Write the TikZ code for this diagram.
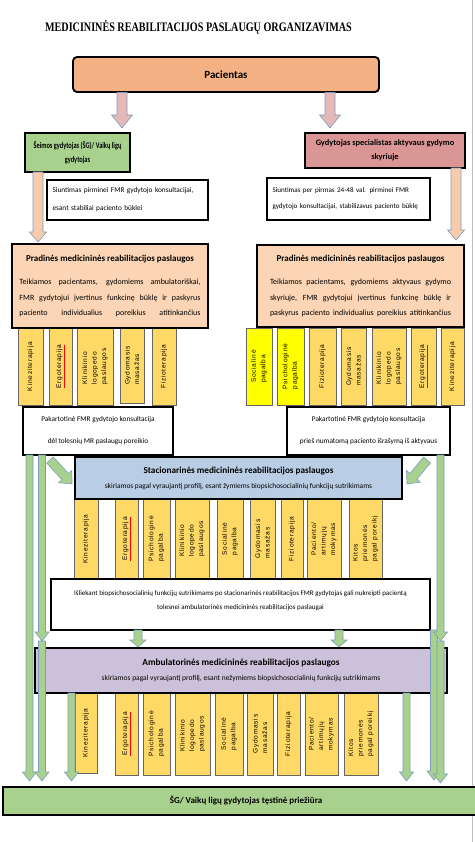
\documentclass[tikz,border=0pt]{standalone}
\usepackage{fontspec}
\usepackage{graphicx}
\setmainfont{Carlito}
\newfontfamily\barfont[LetterSpace=11]{Liberation Sans}
\newfontfamily\ttlfont{Liberation Serif}
\newfontfamily\condfont[FakeStretch=0.74]{Carlito}
\usetikzlibrary{calc}
\definecolor{pacfill}{HTML}{F4B183}
\definecolor{sgfill}{HTML}{A9D18E}
\definecolor{specfill}{HTML}{D99694}
\definecolor{pradfill}{HTML}{FBD5B5}
\definecolor{barfill}{HTML}{FFD966}
\definecolor{ylw}{HTML}{FFFF00}
\definecolor{stacfill}{HTML}{B9CDE5}
\definecolor{ambfill}{HTML}{CCC1DA}
\definecolor{arrline}{HTML}{7C9CC0}
\definecolor{pinkarr}{HTML}{E6B9B8}
\definecolor{orarr}{HTML}{F8CBAD}
\definecolor{grarr}{HTML}{A9D18E}
\tikzset{
  box/.style={draw=black, line width=1.9pt, inner sep=2pt, align=center},
  barbox/.style={draw=black!60, line width=0.5pt, rotate=90, inner sep=1pt, align=left,
    font=\barfont\fontsize{6.6}{9.5}\selectfont},
  blockarr/.style={draw=arrline, line width=0.6pt, fill=#1},
}
% service bar: [fill] name x1 x2 y1 y2 text
\newcommand\svc[7][barfill]{%
  \node[barbox, fill=#1, minimum width={#6-#5}, minimum height={#4-#3}] (#2) at ({(#3+#4)/2},{(#5+#6)/2}) {#7};}
% block arrow: style, from, to, half shaft, half head, head length
\newcommand\blockarrow[6]{%
  \coordinate (bah) at ($(#3)!#6!(#2)$);
  \draw[#1] ($(#2)!#4!90:(#3)$) -- ($(bah)!#4!90:(#3)$) -- ($(bah)!#5!90:(#3)$) -- (#3)
    -- ($(bah)!#5!-90:(#3)$) -- ($(bah)!#4!-90:(#3)$) -- ($(#2)!#4!-90:(#3)$) -- cycle;}
\newcommand\ergo{{\color{red}\underline{\color{black}Ergoterapija}}}
\begin{document}
\begin{tikzpicture}[x=1pt,y=-1pt]
\fill[white] (0,0) rectangle (474,842);
\useasboundingbox (0,0) rectangle (474,842);
\draw[gray!50, line width=1pt] (472.5,0) -- (472.5,842);

\node[font=\ttlfont\bfseries\fontsize{13}{15}\selectfont] (title) at (198.5,27)
  {\scalebox{0.78}[1]{MEDICININĖS REABILITACIJOS PASLAUGŲ ORGANIZAVIMAS}};

% ---------- service bars (behind boxes) ----------
\svc{l1}{18}{43}{328}{405}{Kineziterapija}
\svc{l2}{49}{72}{328}{405}{\ergo}
\svc{l3}{77}{113}{328}{405}{Klinikinio\\logopedo\\paslaugos}
\svc{l4}{120}{144}{328}{403}{Gydomasis\\masažas}
\svc{l5}{152}{176}{328}{405}{Fizioterapija}

\svc[ylw]{r1}{246}{272}{328}{405}{Socialinė\\pagalba}
\svc[ylw]{r2}{277}{304}{328}{405}{Psichologinė\\pagalba}
\svc{r3}{309}{336}{328}{405}{Fizioterapija}
\svc{r4}{341}{366}{328}{405}{Gydomasis\\masažas}
\svc{r5}{372}{406}{328}{405}{Klinikinio\\logopedo\\paslaugos}
\svc{r6}{411}{436}{328}{405}{\ergo}
\svc{r7}{441}{464}{328}{405}{Kineziterapija}

\svc{s1}{74}{98}{499}{579}{Kineziterapija}
\svc{s2}{115}{138}{499}{579}{\ergo}
\svc{s3}{143}{170}{499}{579}{Psichologinė\\pagalba}
\svc{s4}{175}{209}{499}{579}{Klinikinio\\logopedo\\paslaugos}
\svc{s5}{217}{243}{499}{579}{Socialinė\\pagalba}
\svc{s6}{250}{275}{499}{579}{Gydomasis\\masažas}
\svc{s7}{281}{303}{499}{579}{Fizioterapija}
\svc{s8}{307}{341}{499}{579}{Paciento/\\artimųjų\\mokymas}
\svc{s9}{349}{382}{499}{579}{Kitos\\priemonės\\pagal poreikį}

\svc{a1}{75}{97}{693}{773}{Kineziterapija}
\svc{a2}{115}{138}{693}{775}{\ergo}
\svc{a3}{143}{170}{693}{775}{Psichologinė\\pagalba}
\svc{a4}{175}{210}{693}{775}{Klinikinio\\logopedo\\paslaugos}
\svc{a5}{215}{243}{693}{775}{Socialinė\\pagalba}
\svc{a6}{247}{273}{693}{775}{Gydomasis\\masažas}
\svc{a7}{277}{300}{693}{775}{Fizioterapija}
\svc{a8}{305}{338}{693}{775}{Paciento/\\artimųjų\\mokymas}
\svc{a9}{344}{378}{693}{775}{Kitos\\priemonės\\pagal poreikį}

% ---------- boxes ----------
\node[box, fill=pacfill, rounded corners=4pt, minimum width=306, minimum height=35,
  font=\bfseries\fontsize{11}{13}\selectfont] (pac) at (226,74.5) {Pacientas};

\node[box, fill=sgfill, minimum width=105, minimum height=39,
  font=\condfont\bfseries\fontsize{8.6}{14}\selectfont] (sg) at (77.5,152.5)
  {Šeimos gydytojas (ŠG)/ Vaikų ligų\\gydytojas};

\node[box, fill=specfill, minimum width=160, minimum height=35,
  font=\bfseries\fontsize{8.4}{14}\selectfont] (spec) at (385,150.5)
  {Gydytojas specialistas aktyvaus gydymo\\skyriuje};

\node[box, fill=white, minimum width=161, minimum height=40, text width=150, align=left,
  font=\fontsize{7.3}{18}\selectfont] (siunL) at (127.5,200)
  {Siuntimas pirminei FMR gydytojo konsultacijai,\\esant stabiliai paciento būklei};

\node[box, fill=white, minimum width=163, minimum height=42, text width=152, align=left,
  font=\fontsize{7.1}{16}\selectfont] (siunR) at (348.5,199)
  {Siuntimas per pirmas 24-48 val. pirminei FMR\\gydytojo konsultacijai, stabilizavus paciento būklę};

\node[box, fill=pradfill, minimum width=196, minimum height=84,
  font=\fontsize{8}{15.5}\selectfont] (pradL) at (110,286)
  {{\bfseries\fontsize{9}{15.5}\selectfont Pradinės medicininės reabilitacijos paslaugos}\\[8pt]
   \makebox[181pt][s]{Teikiamos pacientams, gydomiems ambulatoriškai,}\\
   \makebox[181pt][s]{FMR gydytojui įvertinus funkcinę būklę ir paskyrus}\\
   \makebox[181pt][s]{paciento individualius poreikius atitinkančius}};

\node[box, fill=pradfill, minimum width=207, minimum height=82,
  font=\fontsize{8}{15.5}\selectfont] (pradR) at (360.5,286)
  {{\bfseries\fontsize{9}{15.5}\selectfont Pradinės medicininės reabilitacijos paslaugos}\\[8pt]
   \makebox[181pt][s]{Teikiamos pacientams, gydomiems aktyvaus gydymo}\\
   \makebox[181pt][s]{skyriuje, FMR gydytojui įvertinus funkcinę būklę ir}\\
   \makebox[181pt][s]{paskyrus paciento individualius poreikius atitinkančius}};

\node[box, fill=white, minimum width=150, minimum height=48,
  font=\fontsize{7.3}{22}\selectfont] (pakL) at (98,431)
  {Pakartotinė FMR gydytojo konsultacija\\dėl tolesnių MR paslaugų poreikio};

\node[box, fill=white, minimum width=163, minimum height=48,
  font=\fontsize{7.3}{22}\selectfont] (pakR) at (368.5,431)
  {Pakartotinė FMR gydytojo konsultacija\\prieš numatomą paciento išrašymą iš aktyvaus};

\node[box, fill=stacfill, minimum width=327, minimum height=42,
  font=\fontsize{7.4}{15}\selectfont] (stac) at (238.5,478)
  {{\bfseries\fontsize{9.2}{15}\selectfont Stacionarinės medicininės reabilitacijos paslaugos}\\
   skiriamos pagal vyraujantį profilį, esant žymiems biopsichosocialinių funkcijų sutrikimams};

\node[box, fill=white, minimum width=379, minimum height=51,
  font=\fontsize{7}{14}\selectfont] (isl) at (240.5,604.5)
  {Išliekant biopsichosocialinių funkcijų sutrikimams po stacionarinės reabilitacijos FMR gydytojas gali nukreipti pacientą\\
   tolesnei ambulatorinės medicininės reabilitacijos paslaugai\\[-5pt]\mbox{}};

\node[box, fill=ambfill, minimum width=412, minimum height=45,
  font=\fontsize{7.5}{15}\selectfont] (amb) at (241,670.5)
  {{\bfseries\fontsize{9.3}{15}\selectfont Ambulatorinės medicininės reabilitacijos paslaugos}\\
   skiriamos pagal vyraujantį profilį, esant nežymiems biopsichosocialinių funkcijų sutrikimams};

\node[box, fill=sgfill, minimum width=486, minimum height=28,
  font=\bfseries\fontsize{9}{11}\selectfont] (bot) at (246,801)
  {ŠG/ Vaikų ligų gydytojas tęstinė priežiūra};

% ---------- arrow end points ----------
\coordinate (p1a) at (122,92.5);  \coordinate (p1b) at (122,128);
\coordinate (p2a) at (330,92.5);  \coordinate (p2b) at (330,128);
\coordinate (o1a) at (38,172);    \coordinate (o1b) at (38,242);
\coordinate (o2a) at (456,168);   \coordinate (o2b) at (456,240);
\coordinate (dLa) at (50,460);    \coordinate (dLb) at (72,484);
\coordinate (dRa) at (427,460);   \coordinate (dRb) at (407,484);
\coordinate (gL1a) at (29.5,455); \coordinate (gL1b) at (29.5,781);
\coordinate (gL2a) at (42,455);   \coordinate (gL2m) at (42,641); \coordinate (gL2b) at (42,781);
\coordinate (gL3a) at (71.5,693); \coordinate (gL3b) at (71.5,781);
\coordinate (gR1a) at (440.5,455);\coordinate (gR1m) at (440.5,641); \coordinate (gR1b) at (440.5,783);
\coordinate (gR2a) at (434,630);  \coordinate (gR2b) at (434,780);
\coordinate (gR3a) at (406.5,693);\coordinate (gR3b) at (406.5,781);
\coordinate (gM1a) at (138,630);  \coordinate (gM1b) at (138,647);
\coordinate (gM2a) at (339,630);  \coordinate (gM2b) at (339,647);

% ---------- block arrows ----------
\blockarrow{blockarr=pinkarr}{p1a}{p1b}{5pt}{10.5pt}{13pt}
\blockarrow{blockarr=pinkarr}{p2a}{p2b}{5pt}{10.5pt}{13pt}
\blockarrow{blockarr=orarr}{o1a}{o1b}{5pt}{8.5pt}{10pt}
\blockarrow{blockarr=orarr}{o2a}{o2b}{5pt}{8.5pt}{10pt}
\blockarrow{blockarr=grarr}{dLa}{dLb}{4.5pt}{9pt}{10pt}
\blockarrow{blockarr=grarr}{dRa}{dRb}{4.5pt}{9pt}{10pt}
\blockarrow{blockarr=grarr}{gL1a}{gL1b}{3.5pt}{7pt}{9pt}
\blockarrow{blockarr=grarr}{gL2m}{gL2b}{3.5pt}{7pt}{9pt}
\blockarrow{blockarr=grarr}{gL2a}{gL2m}{3.5pt}{7pt}{9pt}
\blockarrow{blockarr=grarr}{gL3a}{gL3b}{3.5pt}{7pt}{9pt}
\blockarrow{blockarr=grarr}{gR2a}{gR2b}{3.5pt}{7pt}{9pt}
\blockarrow{blockarr=grarr}{gR1m}{gR1b}{3.5pt}{7pt}{9pt}
\blockarrow{blockarr=grarr}{gR1a}{gR1m}{3.5pt}{7pt}{9pt}
\blockarrow{blockarr=grarr}{gR3a}{gR3b}{3.5pt}{7pt}{9pt}
\blockarrow{blockarr=grarr}{gM1a}{gM1b}{4pt}{8pt}{7pt}
\blockarrow{blockarr=grarr}{gM2a}{gM2b}{4pt}{8pt}{7pt}
\end{tikzpicture}
\end{document}
